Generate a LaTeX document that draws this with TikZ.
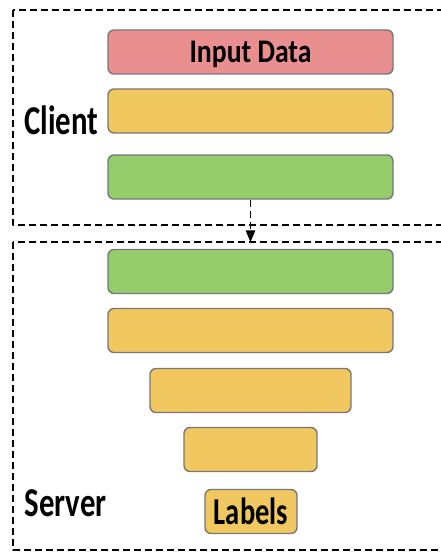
\documentclass[tikz,border=0pt]{standalone}
\usepackage{fontspec}
\setmainfont{Carlito}
\usepackage{graphicx}
\usetikzlibrary{arrows}
\definecolor{redlayer}{RGB}{234,143,143}
\definecolor{yellowlayer}{RGB}{240,200,95}
\definecolor{greenlayer}{RGB}{150,205,108}
\definecolor{layerline}{RGB}{120,120,120}
\newcommand{\slim}[2][0.75]{\scalebox{#1}[1]{#2}}

\begin{document}
\begin{tikzpicture}[line cap=round,line join=round,>=triangle 45,x=1pt,y=-1pt,
  layer/.style={draw=layerline,line width=1.4pt,rounded corners=6pt,minimum height=44pt,inner sep=0pt},
  part/.style={line width=1.7pt,dash pattern=on 7pt off 4pt,line cap=butt}]
\useasboundingbox (0,0) rectangle (441,559);
\clip (0,0) rectangle (441,559);
% client and server parts
\draw [part] (13,10) rectangle (470,225);
\draw [part] (13,242) rectangle (470,550);
\node [anchor=base west,font=\bfseries\fontsize{41}{41}\selectfont] (client) at (21,134) {\slim{Client}};
\node [anchor=base west,font=\bfseries\fontsize{41}{41}\selectfont] (server) at (21,516) {\slim{Server}};
% client layers
\node [layer,fill=redlayer,minimum width=285pt,text height=21pt,text depth=0pt,font=\bfseries\fontsize{33}{33}\selectfont] (input) at (250.5,52) {\slim[0.84]{Input Data}};
\node [layer,fill=yellowlayer,minimum width=285pt] (cyellow) at (250.5,111) {};
\node [layer,fill=greenlayer,minimum width=285pt] (cgreen) at (250.5,177) {};
% server layers
\node [layer,fill=greenlayer,minimum width=285pt] (sgreen) at (250.5,271.5) {};
\node [layer,fill=yellowlayer,minimum width=285pt] (syellowa) at (250.5,330.5) {};
\node [layer,fill=yellowlayer,minimum width=201pt] (syellowb) at (250.5,390.5) {};
\node [layer,fill=yellowlayer,minimum width=133pt] (syellowc) at (250.5,449.5) {};
\node [layer,fill=yellowlayer,minimum width=92pt,text height=25pt,text depth=0pt,yshift=-3pt,font=\bfseries\fontsize{38}{38}\selectfont] (labels) at (251,508.5) {\slim{Labels}};
% cut between the parts
\coordinate (cut) at (cgreen.south |- 0,242);
\draw [part,->] (cgreen.south) -- (cut);
\end{tikzpicture}
\end{document}
